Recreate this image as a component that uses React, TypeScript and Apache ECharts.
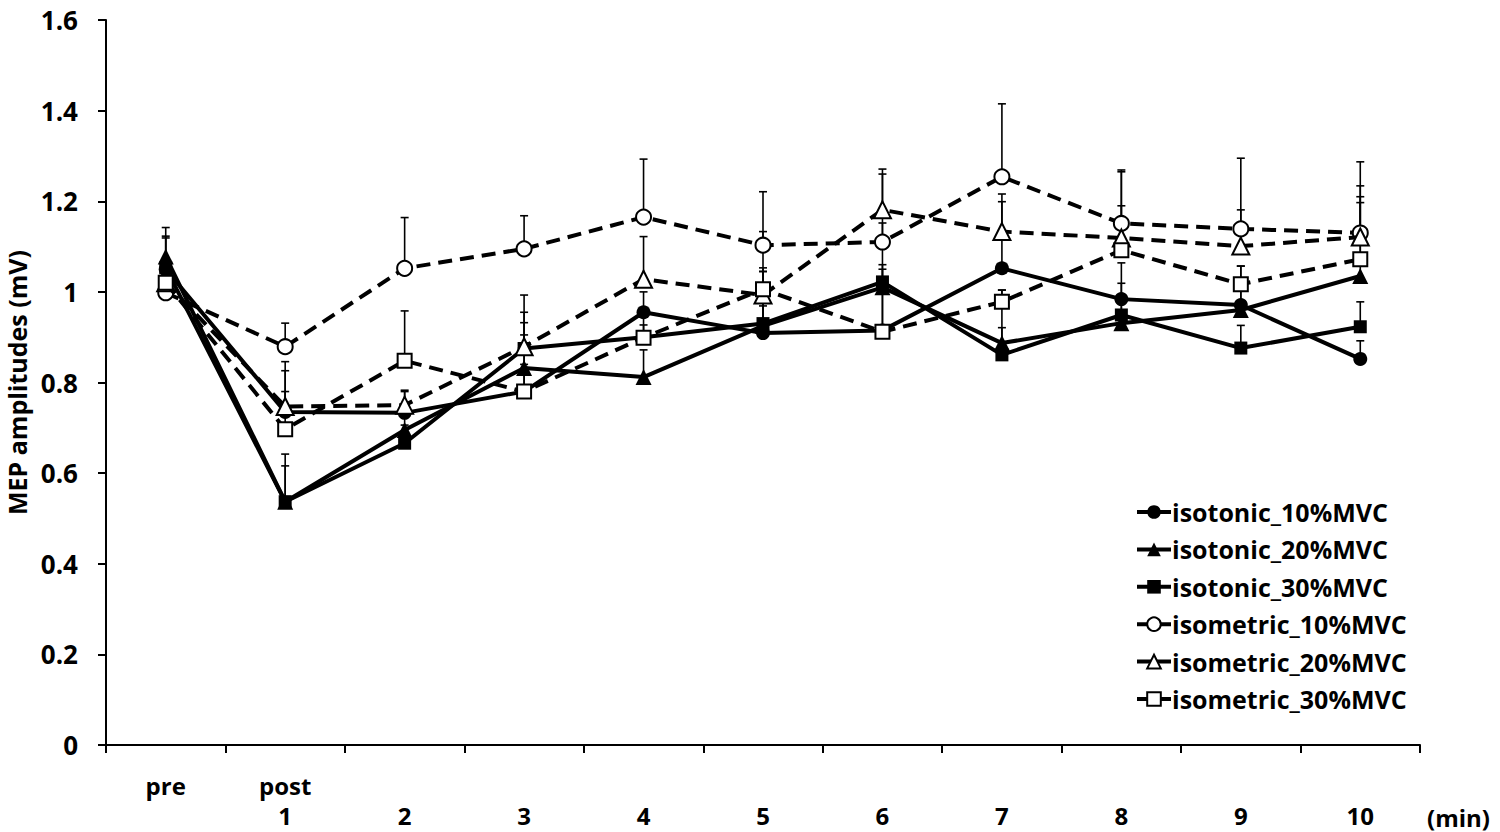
import React, { useEffect, useRef } from "react";
import * as echarts from "echarts";

const xTopLabels = ["pre", "post", "", "", "", "", "", "", "", "", ""];
const xBottomLabels = [" ", "1", "2", "3", "4", "5", "6", "7", "8", "9", "10"];

const isotonic10 = [1.05, 0.735, 0.733, 0.78, 0.955, 0.909, 0.915, 1.052, 0.984, 0.971, 0.852];
const isotonic20 = [1.078, 0.537, 0.695, 0.832, 0.812, 0.925, 1.01, 0.887, 0.931, 0.96, 1.035];
const isotonic30 = [1.053, 0.537, 0.666, 0.875, 0.9, 0.93, 1.022, 0.861, 0.949, 0.876, 0.923];
const isometric10 = [0.998, 0.879, 1.052, 1.095, 1.165, 1.103, 1.11, 1.254, 1.151, 1.139, 1.13];
const isometric20 = [1.02, 0.747, 0.75, 0.879, 1.028, 0.993, 1.181, 1.133, 1.119, 1.101, 1.121];
const isometric30 = [1.02, 0.697, 0.848, 0.78, 0.899, 1.006, 0.912, 0.978, 1.092, 1.017, 1.072];

const isotonic10Sd = [0.073, 0.091, 0.05, 0.06, 0.045, 0.06, 0.145, 0.147, 0.08, 0.086, 0.04];
const isotonic20Sd = [0.064, 0.105, 0.03, 0.1, 0.06, 0.12, 0.04, 0.117, 0.06, 0.05, 0.162];
const isotonic30Sd = [0.066, 0.079, 0.04, 0.08, 0.027, 0.115, 0.13, 0.06, 0.07, 0.05, 0.055];
const isometric10Sd = [0.05, 0.052, 0.112, 0.073, 0.128, 0.118, 0.15, 0.161, 0.118, 0.156, 0.157];
const isometric20Sd = [0.05, 0.099, 0.03, 0.114, 0.094, 0.06, 0.09, 0.083, 0.146, 0.08, 0.113];
const isometric30Sd = [0.05, 0.083, 0.11, 0.125, 0.06, 0.127, 0.1, 0.026, 0.098, 0.04, 0.138];

const yTicks = { min: 0, max: 1.6, interval: 0.2 };

const FONT = "'Open Sans', 'Noto Sans', sans-serif";

type SeriesDef = {
  name: string;
  values: number[];
  sd: number[];
  symbol: string;
  size: number;
  open: boolean;
};

const seriesDefs: SeriesDef[] = [
  { name: "isotonic_10%MVC", values: isotonic10, sd: isotonic10Sd, symbol: "circle", size: 14, open: false },
  { name: "isotonic_20%MVC", values: isotonic20, sd: isotonic20Sd, symbol: "triangle", size: 16, open: false },
  { name: "isotonic_30%MVC", values: isotonic30, sd: isotonic30Sd, symbol: "rect", size: 13, open: false },
  { name: "isometric_10%MVC", values: isometric10, sd: isometric10Sd, symbol: "circle", size: 15, open: true },
  { name: "isometric_20%MVC", values: isometric20, sd: isometric20Sd, symbol: "triangle", size: 17, open: true },
  { name: "isometric_30%MVC", values: isometric30, sd: isometric30Sd, symbol: "rect", size: 14, open: true },
];

export default function App() {
  const ref = useRef<HTMLDivElement>(null);

  useEffect(() => {
    if (!ref.current) return;
    const chart = echarts.init(ref.current, undefined, { renderer: "svg" });

    const categories = xTopLabels.map((t, i) => `${t}\n${xBottomLabels[i]}`);

    const errorSeries = seriesDefs.map((s) => ({
      type: "custom",
      name: s.name + "_err",
      z: 1,
      silent: true,
      encode: { x: 0, y: [1, 2] },
      data: s.values.map((v, i) => [i, v, v + s.sd[i]]),
      renderItem: (_params: any, api: any) => {
        const x = api.value(0);
        const v = api.value(1);
        const t = api.value(2);
        const p0 = api.coord([x, v]);
        const p1 = api.coord([x, t]);
        return {
          type: "group",
          children: [
            {
              type: "line",
              shape: { x1: p0[0], y1: p0[1], x2: p1[0], y2: p1[1] },
              style: { stroke: "#000", lineWidth: 1.6 },
            },
            {
              type: "line",
              shape: { x1: p1[0] - 4, y1: p1[1], x2: p1[0] + 4, y2: p1[1] },
              style: { stroke: "#000", lineWidth: 1.6 },
            },
          ],
        };
      },
    }));

    const lineSeries = seriesDefs.map((s, idx) => ({
      type: "line",
      name: s.name,
      z: 2 + idx,
      data: s.values,
      symbol: s.symbol,
      symbolSize: s.size,
      showAllSymbol: true,
      lineStyle: {
        color: "#000",
        width: 4,
        type: s.open ? [14, 8] : "solid",
      },
      itemStyle: s.open
        ? { color: "#fff", borderColor: "#000", borderWidth: 2 }
        : { color: "#000", borderColor: "#000", borderWidth: 0 },
      emphasis: { disabled: true },
    }));

    chart.setOption({
      animation: false,
      backgroundColor: "#fff",
      grid: {
        left: 106,
        right: 80,
        top: 20,
        bottom: 87,
        containLabel: false,
        outerBoundsMode: "none",
      },
      legend: {
        orient: "vertical",
        left: 1130,
        top: 493,
        itemWidth: 34,
        itemHeight: 17,
        itemGap: 9.4,
        data: seriesDefs.map((s) => s.name),
        lineStyle: { type: "solid", width: 4 },
        textStyle: {
          fontFamily: FONT,
          fontWeight: "bold",
          fontSize: 25,
          lineHeight: 28,
          color: "#000",
          padding: [0, 0, 0, -4],
        },
      },
      xAxis: {
        type: "category",
        data: categories,
        boundaryGap: true,
        axisLine: { show: true, lineStyle: { color: "#000", width: 2 } },
        axisTick: { show: true, inside: false, length: 8, alignWithLabel: false, lineStyle: { color: "#000", width: 2 } },
        axisLabel: {
          interval: 0,
          margin: 25,
          color: "#000",
          fontFamily: FONT,
          fontWeight: "bold",
          fontSize: 24,
          lineHeight: 30,
        },
        splitLine: { show: false },
      },
      yAxis: {
        type: "value",
        min: yTicks.min,
        max: yTicks.max,
        interval: yTicks.interval,
        name: "MEP amplitudes (mV)",
        nameLocation: "middle",
        nameGap: 75,
        nameTextStyle: {
          fontFamily: FONT,
          fontWeight: "bold",
          fontSize: 25,
          lineHeight: 26,
          color: "#000",
        },
        axisLine: { show: true, lineStyle: { color: "#000", width: 2 } },
        axisTick: { show: true, inside: false, length: 8, lineStyle: { color: "#000", width: 2 } },
        axisLabel: {
          margin: 28,
          color: "#000",
          fontFamily: FONT,
          fontWeight: "bold",
          fontSize: 26,
          formatter: (v: number) => String(Math.round(v * 10) / 10),
        },
        splitLine: { show: false },
      },
      graphic: [
        {
          type: "text",
          left: 1427,
          top: 804,
          style: {
            text: "(min)",
            fill: "#000",
            fontFamily: FONT,
            fontWeight: "bold",
            fontSize: 24,
            lineHeight: 26,
          },
        },
      ],
      series: [...errorSeries, ...lineSeries],
    });

    return () => chart.dispose();
  }, []);

  return (
    <div
      ref={ref}
      style={{ position: "fixed", left: 0, top: 0, width: 1500, height: 832, background: "#fff" }}
    />
  );
}
